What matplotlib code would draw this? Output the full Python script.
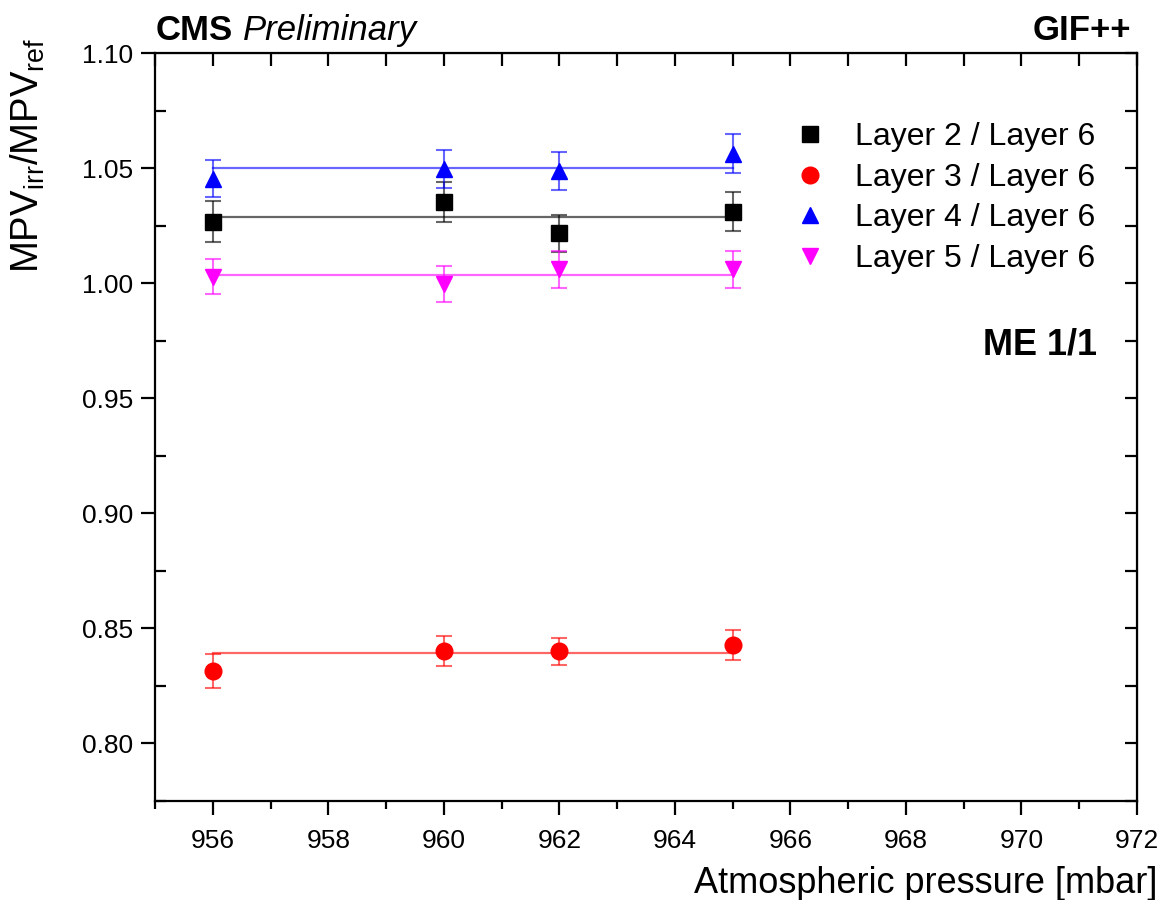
import matplotlib.pyplot as plt
from matplotlib.ticker import MultipleLocator, FormatStrFormatter

plt.rcParams['font.family'] = ['Liberation Sans', 'DejaVu Sans']

# pressure points [mbar]
pressure = [956, 960, 962, 965]

# MPV ratios per layer pair
layer2 = [1.0268, 1.0353, 1.0217, 1.0311]
layer2_err = [0.0089, 0.0086, 0.0081, 0.0085]
layer3 = [0.8315, 0.8402, 0.8400, 0.8428]
layer3_err = [0.0072, 0.0067, 0.0057, 0.0067]
layer4 = [1.0455, 1.0495, 1.0489, 1.0563]
layer4_err = [0.0079, 0.0082, 0.0083, 0.0085]
layer5 = [1.0029, 0.9997, 1.0060, 1.0060]
layer5_err = [0.0075, 0.0080, 0.0082, 0.0082]

# constant fit levels
fit_levels = [1.0286, 0.8393, 1.0500, 1.0037]
fit_range = [956, 965]

labels = ['Layer 2 / Layer 6', 'Layer 3 / Layer 6',
          'Layer 4 / Layer 6', 'Layer 5 / Layer 6']
colors = ['black', 'red', 'blue', 'magenta']
markers = ['s', 'o', '^', 'v']
sizes = [11, 12, 12, 12]

fig = plt.figure(figsize=(11.76, 9), dpi=100)
ax = fig.add_axes([0.1318, 0.110, 0.835, 0.831])

series = [(layer2, layer2_err), (layer3, layer3_err),
          (layer4, layer4_err), (layer5, layer5_err)]

handles = []
for (vals, errs), fit, lab, col, mk, ms in zip(series, fit_levels, labels,
                                                colors, markers, sizes):
    ax.plot(fit_range, [fit, fit], color=col, lw=1.6, alpha=0.6, zorder=2)
    ax.errorbar(pressure, vals, yerr=errs, fmt='none', ecolor=col,
                elinewidth=1.5, capsize=6, capthick=1.5, alpha=0.6, zorder=3)
    h, = ax.plot(pressure, vals, ls='none', marker=mk, ms=ms, color=col,
                 mec=col, zorder=4, label=lab)
    handles.append(h)

ax.set_xlim(955, 972)
ax.set_ylim(0.775, 1.10)

ax.xaxis.set_major_locator(MultipleLocator(2))
ax.xaxis.set_minor_locator(MultipleLocator(1))
ax.yaxis.set_major_locator(MultipleLocator(0.05))
ax.yaxis.set_minor_locator(MultipleLocator(0.025))
ax.yaxis.set_major_formatter(FormatStrFormatter('%.2f'))

for s in ax.spines.values():
    s.set_linewidth(1.6)

ax.tick_params(axis='both', which='major', direction='out', length=10,
               width=1.6, labelsize=19, pad=6)
ax.tick_params(axis='x', which='major', pad=10)
ax.tick_params(axis='x', which='minor', direction='out', length=6, width=1.6)
ax.tick_params(axis='y', which='minor', direction='in', length=8, width=1.6)

# inward ticks on top and right
top = ax.secondary_xaxis('top')
top.xaxis.set_major_locator(MultipleLocator(1))
top.tick_params(direction='in', length=9, width=1.6, labeltop=False)
right = ax.secondary_yaxis('right')
right.yaxis.set_major_locator(MultipleLocator(0.025))
right.tick_params(direction='in', length=9, width=1.6, labelright=False)

ax.set_xlabel('Atmospheric pressure [mbar]', fontsize=26, loc='right')
ax.xaxis.set_label_coords(1.021, -0.087)
ax.xaxis.label.set_va('top')
ax.set_ylabel(r'MPV$_{\mathregular{irr}}$/MPV$_{\mathregular{ref}}$',
              fontsize=27.5, loc='top')
ax.yaxis.set_label_coords(-0.110, 1.02)

ax.legend(handles=handles, loc='upper left', bbox_to_anchor=(0.622, 0.946),
          frameon=False, fontsize=23, handletextpad=0.9, labelspacing=0.33,
          handlelength=1.0, markerscale=1.0)

t1 = fig.text(0.132, 0.948, 'CMS', fontsize=25, fontweight='bold',
              va='bottom')
fig.canvas.draw()
bb = t1.get_window_extent()
fig.text(bb.x1 / fig.bbox.width + 0.009, 0.948, 'Preliminary', fontsize=25,
         style='italic', va='bottom')
fig.text(0.962, 0.948, 'GIF++', fontsize=25, fontweight='bold', va='bottom',
         ha='right')
ax.text(0.959, 0.61, 'ME 1/1', transform=ax.transAxes, fontsize=26,
        fontweight='bold', ha='right', va='center')

fig.savefig('out.png', dpi=100)
